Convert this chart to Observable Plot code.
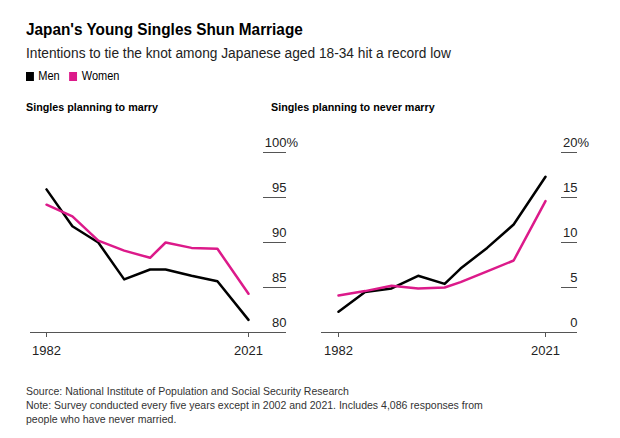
<!DOCTYPE html>
<html><head><meta charset="utf-8">
<script src="https://cdn.jsdelivr.net/npm/d3@7"></script>
<script src="https://cdn.jsdelivr.net/npm/@observablehq/plot@0.6"></script>
<style>
body{margin:0;background:#fff;}
#c{position:relative;width:620px;height:438px;overflow:hidden;font-family:"Liberation Sans",Arial,sans-serif;color:#000;background:#fff;}
.t{position:absolute;white-space:nowrap;transform-origin:0 0;line-height:1;}
.p{position:absolute;}
</style></head><body><div id="c"></div>
<script>
const years = [1982, 1987, 1992, 1997, 2002, 2005, 2010, 2015, 2021];
const marryMen = [95.9, 91.8, 90.0, 85.9, 87.0, 87.0, 86.3, 85.7, 81.4];
const marryWomen = [94.2, 92.9, 90.2, 89.1, 88.3, 90.0, 89.4, 89.3, 84.3];
const neverMen = [2.3, 4.5, 4.9, 6.3, 5.4, 7.1, 9.4, 12.0, 17.3];
const neverWomen = [4.1, 4.6, 5.2, 4.9, 5.0, 5.6, 6.8, 8.0, 14.6];
const series = ["Men", "Women"];
const colors = ["#000000", "#dc1a8a"];
const xTicks = [1982, 2021];
const marryTicks = [80, 85, 90, 95, 100];
const neverTicks = [0, 5, 10, 15, 20];

const title = "Japan's Young Singles Shun Marriage";
const subtitle = "Intentions to tie the knot among Japanese aged 18-34 hit a record low";
const panelTitles = ["Singles planning to marry", "Singles planning to never marry"];
const captionLines = [
  "Source: National Institute of Population and Social Security Research",
  "Note: Survey conducted every five years except in 2002 and 2021. Includes 4,086 responses from",
  "people who have never married."
];

const root = document.getElementById("c");
function addText(txt, {x, baseline, size, weight = 400, scale = 1, color = "#000"}) {
  const d = document.createElement("div");
  d.className = "t";
  d.textContent = txt;
  d.style.left = x + "px";
  d.style.top = (baseline - 0.8465 * size) + "px";
  d.style.fontSize = size + "px";
  d.style.fontWeight = weight;
  d.style.color = color;
  d.style.transform = `scaleX(${scale})`;
  root.appendChild(d);
  return d;
}

addText(title, {x: 26, baseline: 35, size: 16.5, weight: 700, scale: 0.93});
addText(subtitle, {x: 26, baseline: 57.5, size: 14, scale: 0.98, color: "#222"});

// legend
const lg = document.createElement("div");
lg.className = "t";
lg.style.left = "26px";
lg.style.top = (81 - 0.8465 * 12.5) + "px";
lg.style.fontSize = "12.5px";
lg.style.transform = "scaleX(0.88)";
lg.style.display = "flex";
lg.style.alignItems = "center";
series.forEach((s, i) => {
  const sw = document.createElement("span");
  sw.style.cssText = `display:inline-block;width:9px;height:9px;background:${colors[i]};margin-right:5px;margin-left:${i ? 11 : 0}px`;
  const tx = document.createElement("span");
  tx.textContent = s;
  lg.appendChild(sw); lg.appendChild(tx);
});
root.appendChild(lg);

addText(panelTitles[0], {x: 26, baseline: 112, size: 11.5, weight: 700, scale: 0.935});
addText(panelTitles[1], {x: 271, baseline: 112, size: 11.5, weight: 700, scale: 0.935});

captionLines.forEach((l, i) => addText(l, {x: 26, baseline: 396 + 14 * i, size: 11.5, scale: 0.915, color: "#333"}));

function tidy(a, b) {
  const out = [];
  years.forEach((y, i) => {
    out.push({year: y, value: a[i], series: series[0]});
    out.push({year: y, value: b[i], series: series[1]});
  });
  return out;
}

function panel({data, ticks, left, width, marginLeft, marginRight, xRange, gridInset}) {
  const lo = ticks[0], hi = ticks[ticks.length - 1];
  const fig = Plot.plot({
    width, height: 230, marginTop: 22, marginBottom: 28, marginLeft, marginRight,
    style: {fontFamily: '"Liberation Sans", Arial, sans-serif', fontSize: "13px", color: "#222", background: "transparent"},
    x: {domain: [years[0], years[years.length - 1]], range: xRange},
    y: {domain: [lo, hi]},
    color: {domain: series, range: colors},
    marks: [
      Plot.gridY(ticks.slice(1), {stroke: "#555", strokeOpacity: 1, insetLeft: gridInset}),
      Plot.ruleY([lo], {stroke: "#555"}),
      Plot.axisX({ticks: xTicks, tickSize: 5, tickPadding: 8, tickFormat: d => String(d), label: null, stroke: "#555"}),
      Plot.axisY({anchor: "right", ticks, tickSize: 0, tickPadding: 0, textAnchor: "end", dy: -10, tickFormat: d => String(d), label: null}),
      Plot.text([hi], {y: d => d, text: () => "%", frameAnchor: "right", textAnchor: "start", dy: -10, fill: "#222"}),
      Plot.line(data, {x: "year", y: "value", stroke: "series", strokeWidth: 2.5})
    ]
  });
  fig.classList.add("p");
  fig.style.left = left + "px";
  fig.style.top = "130px";
  root.appendChild(fig);
}

panel({data: tidy(marryMen, marryWomen), ticks: marryTicks, left: 0, width: 300, marginLeft: 30, marginRight: 14, xRange: [46, 248], gridInset: 233});
panel({data: tidy(neverMen, neverWomen), ticks: neverTicks, left: 300, width: 320, marginLeft: 21, marginRight: 43, xRange: [38, 245], gridInset: 240});
</script>
</body></html>
